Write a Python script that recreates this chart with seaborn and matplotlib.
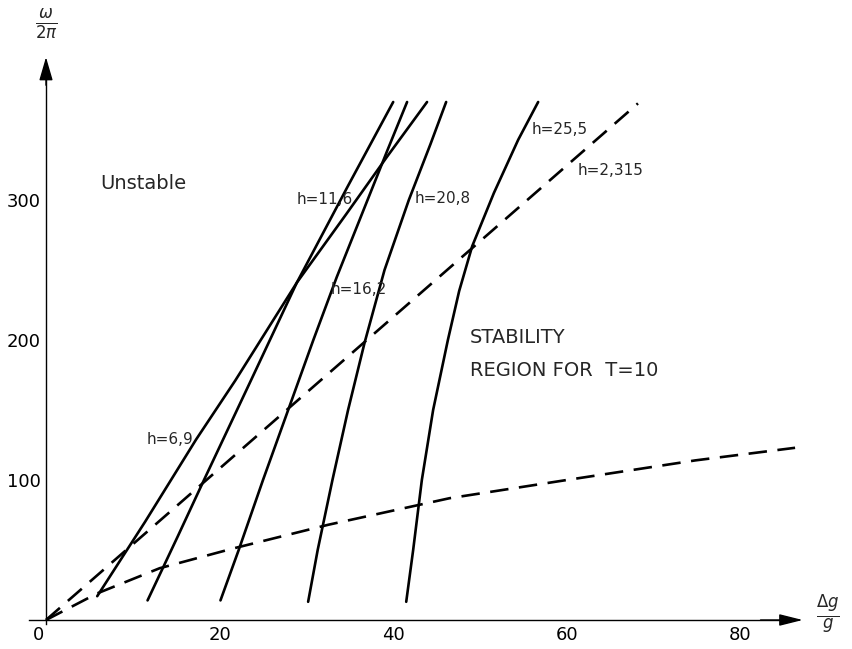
import matplotlib
matplotlib.use('Agg')
import matplotlib.pyplot as plt
import matplotlib.transforms as mtransforms
import seaborn as sns
import pandas as pd

sns.set_theme(style='white')
plt.rcParams['font.family'] = ['DejaVu Sans']

# ---- data ----
h69_x = [5.9, 11.4, 17.3, 21.8, 28.9, 34.6, 39.3, 43.9]
h69_w = [17, 70, 129, 171, 241, 290, 331, 370]
h116_x = [11.7, 15.2, 18.2, 23.6, 28.9, 34.7, 40.0]
h116_w = [14, 60, 100, 171, 241, 309, 370]
h162_x = [20.1, 22.2, 25.0, 27.9, 30.8, 33.5, 36.4, 39.3, 41.6]
h162_w = [14, 50, 100, 150, 200, 245, 290, 335, 370]
h208_x = [30.2, 31.3, 33.0, 34.8, 36.7, 39.0, 41.8, 44.3, 46.1]
h208_w = [13, 50, 100, 150, 198, 250, 300, 340, 370]
h255_x = [41.5, 42.3, 43.3, 44.6, 46.3, 47.6, 49.1, 51.6, 54.4, 56.7]
h255_w = [13, 50, 100, 150, 200, 235, 267, 305, 343, 370]
h2315_x = [0, 68.2]
h2315_w = [0, 369]
low_x = [0, 5.9, 13.1, 21.5, 32.5, 46.5, 60, 74.8, 86.3]
low_w = [0, 19, 37, 51, 68, 87, 100, 114, 123]

x_ticks = [0, 20, 40, 60, 80]
y_ticks = [100, 200, 300]

solid = [(h69_x, h69_w), (h116_x, h116_w), (h162_x, h162_w),
         (h208_x, h208_w), (h255_x, h255_w)]
dashed = [(h2315_x, h2315_w), (low_x, low_w)]

W, H = 853, 649
fig = plt.figure(figsize=(W / 100, H / 100), dpi=100)
xmin, xmax = -2, 88
ymin, ymax = -5, 405
px_x = 8.68
px_y = 1.4
left = 46 - px_x * (0 - xmin)
bottom_from_top = 620 + px_y * (0 - ymin)
ax_w = px_x * (xmax - xmin)
ax_h = px_y * (ymax - ymin)
ax = fig.add_axes([left / W, (H - bottom_from_top) / H, ax_w / W, ax_h / H])
ax.set_xlim(xmin, xmax)
ax.set_ylim(ymin, ymax)

for xs, ws in solid:
    df = pd.DataFrame({'x': xs, 'w': ws})
    sns.lineplot(data=df, x='x', y='w', ax=ax, sort=False, estimator=None,
                 color='black', linewidth=1.9)
for xs, ws in dashed:
    df = pd.DataFrame({'x': xs, 'w': ws})
    sns.lineplot(data=df, x='x', y='w', ax=ax, sort=False, estimator=None,
                 color='black', linewidth=1.9, linestyle=(0, (7, 4)))

# axes as arrows
for s in ['top', 'right']:
    ax.spines[s].set_visible(False)
ax.spines['left'].set_position(('data', 0))
ax.spines['bottom'].set_position(('data', 0))
ax.spines['left'].set_bounds(-3, 395)
ax.spines['bottom'].set_bounds(-2, 85)
for s in ['left', 'bottom']:
    ax.spines[s].set_color('black')
    ax.spines[s].set_linewidth(1.0)
ax.annotate('', xy=(0, 404), xytext=(0, 380),
            arrowprops=dict(arrowstyle='-|>,head_length=1.2,head_width=0.35',
                            color='black', lw=1.0))
ax.annotate('', xy=(87.5, 0), xytext=(82, 0),
            arrowprops=dict(arrowstyle='-|>,head_length=1.2,head_width=0.3',
                            color='black', lw=1.0))

ax.set_xticks(x_ticks)
ax.set_xticklabels([str(v) for v in x_ticks])
ax.set_yticks(y_ticks)
ax.set_yticklabels([str(v) for v in y_ticks])
ax.tick_params(axis='both', direction='in', length=3, width=0.8,
               labelsize=13, colors='black', pad=4)
ax.set_xlabel('')
ax.set_ylabel('')
ax.grid(False)
# the "0" label sits just left of the vertical axis
zero_lab = ax.get_xticklabels()[0]
zero_lab.set_transform(zero_lab.get_transform() +
                       mtransforms.ScaledTranslation(-8 / 100, 0, fig.dpi_scale_trans))

fig.text(46 / W, 1 - 25 / H, r'$\frac{\omega}{2\pi}$', fontsize=17,
         ha='center', va='center')
fig.text(828 / W, 1 - 615 / H, r'$\frac{\Delta g}{g}$', fontsize=17,
         ha='center', va='center')

ax.text(6.2, 312, 'Unstable', fontsize=14, ha='left', va='center')
ax.text(28.9, 300, 'h=11,6', fontsize=11, ha='left', va='center')
ax.text(32.8, 236, 'h=16,2', fontsize=11, ha='left', va='center')
ax.text(42.5, 301, 'h=20,8', fontsize=11, ha='left', va='center')
ax.text(56.0, 350, 'h=25,5', fontsize=11, ha='left', va='center')
ax.text(61.2, 321, 'h=2,315', fontsize=11, ha='left', va='center')
ax.text(11.6, 129, 'h=6,9', fontsize=11, ha='left', va='center')
ax.text(48.8, 202, 'STABILITY', fontsize=14, ha='left', va='center')
ax.text(48.8, 178, 'REGION FOR  T=10', fontsize=14, ha='left', va='center')

fig.savefig('out.png', dpi=100, facecolor='white')
